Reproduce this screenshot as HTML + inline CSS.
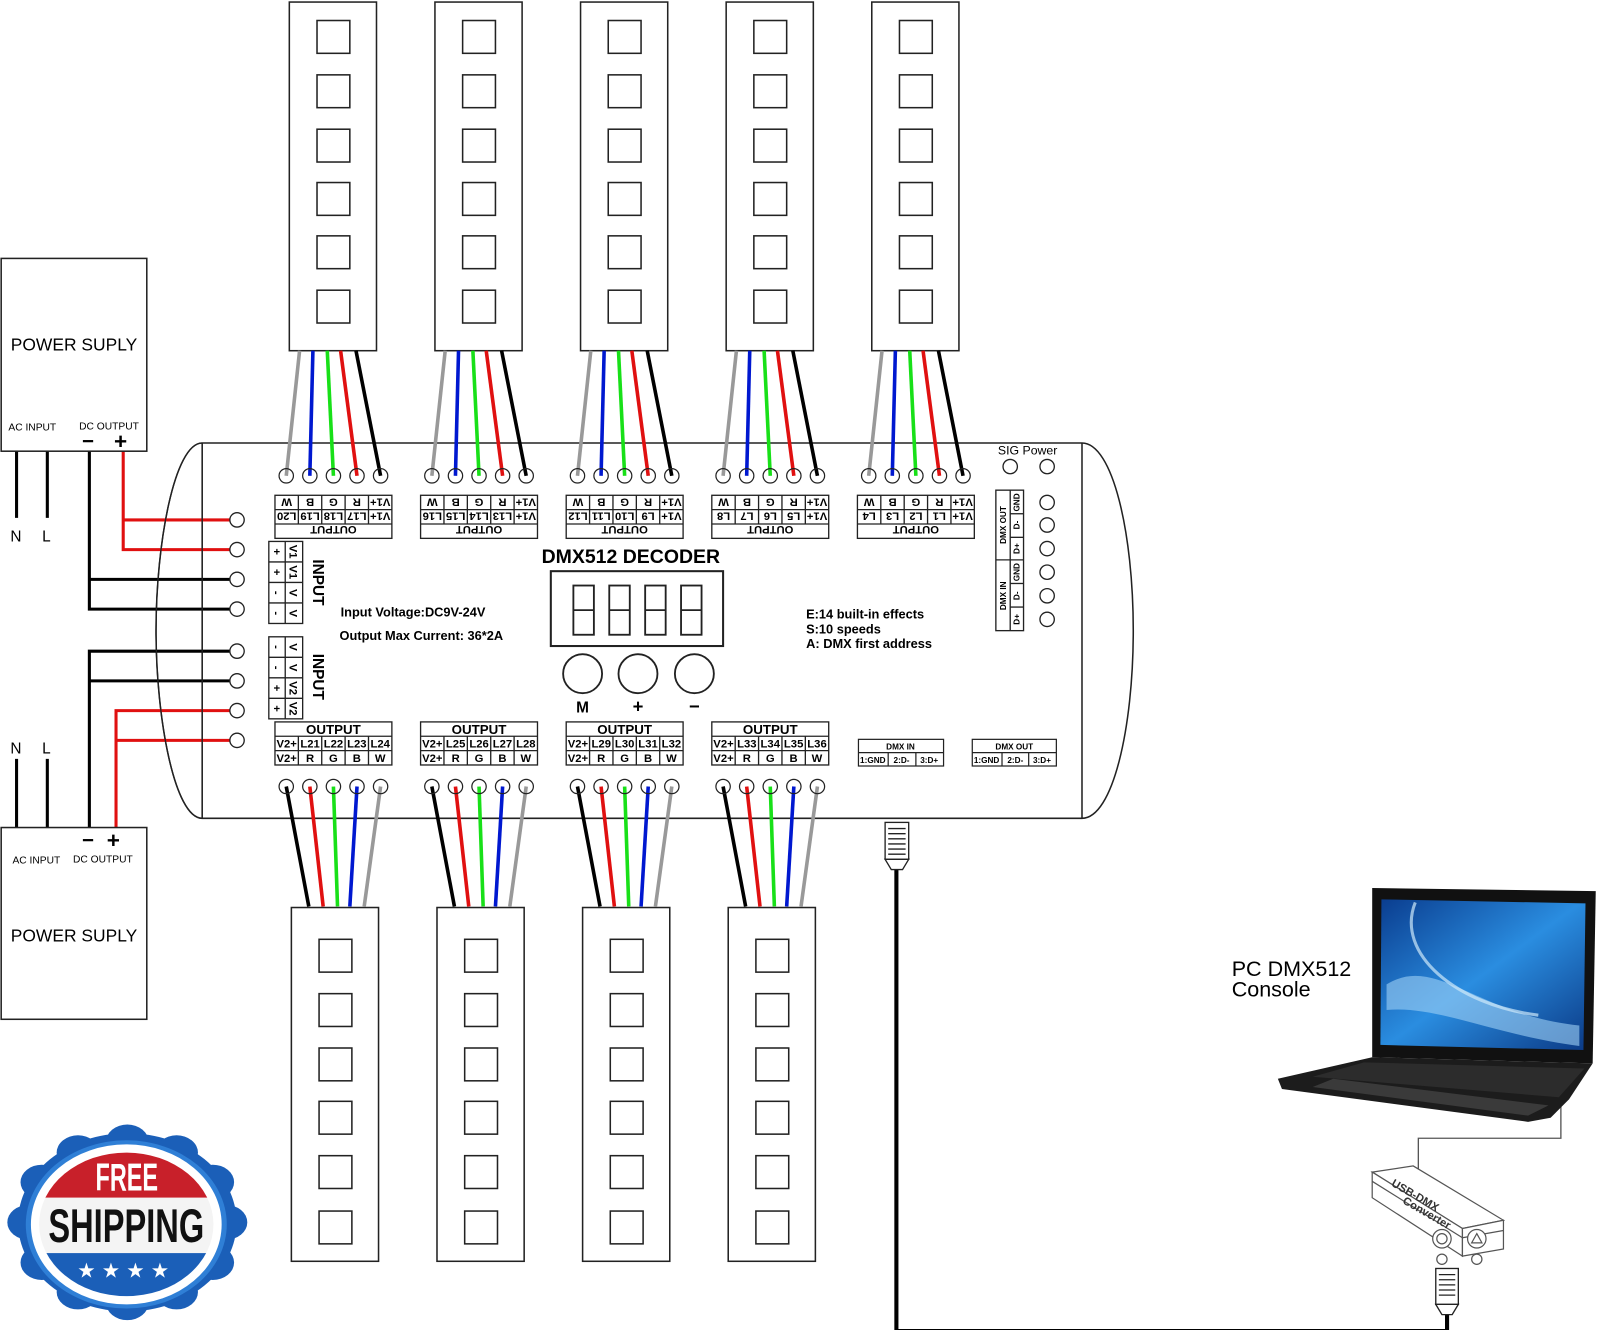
<!DOCTYPE html>
<html><head><meta charset="utf-8"><style>
html,body{margin:0;padding:0;background:#fff;}
svg{display:block;}
text{font-family:"Liberation Sans",sans-serif;}
.b{font-weight:bold;}
</style></head><body>
<svg width="1600" height="1330" viewBox="0 0 1560 1297" xmlns="http://www.w3.org/2000/svg">
<defs>
<linearGradient id="scr" x1="0" y1="0" x2="1" y2="1"><stop offset="0" stop-color="#0a3d8f"/><stop offset="0.5" stop-color="#2a8de0"/><stop offset="1" stop-color="#0b3a86"/></linearGradient>
<clipPath id="inner"><ellipse cx="123" cy="1194" rx="85" ry="70"/></clipPath>
<g id="strip"><rect x="0" y="2" width="85" height="340" fill="#fff" stroke="#222" stroke-width="1.5"/>
<rect x="27" y="20" width="32" height="32" fill="none" stroke="#222" stroke-width="1.5"/>
<rect x="27" y="73" width="32" height="32" fill="none" stroke="#222" stroke-width="1.5"/>
<rect x="27" y="126" width="32" height="32" fill="none" stroke="#222" stroke-width="1.5"/>
<rect x="27" y="178" width="32" height="32" fill="none" stroke="#222" stroke-width="1.5"/>
<rect x="27" y="230" width="32" height="32" fill="none" stroke="#222" stroke-width="1.5"/>
<rect x="27" y="283" width="32" height="32" fill="none" stroke="#222" stroke-width="1.5"/></g>
<g id="bstrip"><rect x="0" y="0" width="85" height="345" fill="#fff" stroke="#222" stroke-width="1.5"/>
<rect x="27" y="31" width="32" height="32" fill="none" stroke="#222" stroke-width="1.5"/>
<rect x="27" y="84" width="32" height="32" fill="none" stroke="#222" stroke-width="1.5"/>
<rect x="27" y="137" width="32" height="32" fill="none" stroke="#222" stroke-width="1.5"/>
<rect x="27" y="189" width="32" height="32" fill="none" stroke="#222" stroke-width="1.5"/>
<rect x="27" y="242" width="32" height="32" fill="none" stroke="#222" stroke-width="1.5"/>
<rect x="27" y="296" width="32" height="32" fill="none" stroke="#222" stroke-width="1.5"/></g>
<g id="twires" stroke-width="3.5" fill="none">
<line x1="13" y1="342" x2="0" y2="464" stroke="#999"/>
<line x1="26" y1="342" x2="23" y2="464" stroke="#0018d0"/>
<line x1="40" y1="342" x2="46" y2="464" stroke="#18e018"/>
<line x1="53" y1="342" x2="69" y2="464" stroke="#e01010"/>
<line x1="68" y1="342" x2="92" y2="464" stroke="#000"/>
<circle cx="0" cy="464" r="7" stroke="#222" stroke-width="1.2" fill="none"/>
<circle cx="23" cy="464" r="7" stroke="#222" stroke-width="1.2" fill="none"/>
<circle cx="46" cy="464" r="7" stroke="#222" stroke-width="1.2" fill="none"/>
<circle cx="69" cy="464" r="7" stroke="#222" stroke-width="1.2" fill="none"/>
<circle cx="92" cy="464" r="7" stroke="#222" stroke-width="1.2" fill="none"/></g>
<g id="bwires" stroke-width="3.5" fill="none">
<line x1="0" y1="767" x2="22" y2="884" stroke="#000"/>
<line x1="23" y1="767" x2="36" y2="884" stroke="#e01010"/>
<line x1="46" y1="767" x2="50" y2="884" stroke="#18e018"/>
<line x1="69" y1="767" x2="62" y2="884" stroke="#0018d0"/>
<line x1="92" y1="767" x2="76" y2="884" stroke="#999"/>
<circle cx="0" cy="767" r="7" stroke="#222" stroke-width="1.2" fill="none"/>
<circle cx="23" cy="767" r="7" stroke="#222" stroke-width="1.2" fill="none"/>
<circle cx="46" cy="767" r="7" stroke="#222" stroke-width="1.2" fill="none"/>
<circle cx="69" cy="767" r="7" stroke="#222" stroke-width="1.2" fill="none"/>
<circle cx="92" cy="767" r="7" stroke="#222" stroke-width="1.2" fill="none"/></g>
<g id="tgrid" fill="none" stroke="#222" stroke-width="1.3"><rect x="0" y="0" width="114" height="42"/><line x1="0" y1="14" x2="114" y2="14"/><line x1="0" y1="28" x2="114" y2="28"/>
<line x1="22.8" y1="0" x2="22.8" y2="28"/><line x1="45.6" y1="0" x2="45.6" y2="28"/><line x1="68.4" y1="0" x2="68.4" y2="28"/><line x1="91.2" y1="0" x2="91.2" y2="28"/></g>
<g id="bgrid" fill="none" stroke="#222" stroke-width="1.3"><rect x="0" y="0" width="114" height="42"/><line x1="0" y1="14" x2="114" y2="14"/><line x1="0" y1="28" x2="114" y2="28"/>
<line x1="22.8" y1="14" x2="22.8" y2="42"/><line x1="45.6" y1="14" x2="45.6" y2="42"/><line x1="68.4" y1="14" x2="68.4" y2="42"/><line x1="91.2" y1="14" x2="91.2" y2="42"/></g>
</defs>

<use href="#strip" x="282"/><use href="#strip" x="424"/><use href="#strip" x="566"/><use href="#strip" x="708"/><use href="#strip" x="850"/>
<use href="#bstrip" x="284" y="885"/><use href="#bstrip" x="426" y="885"/><use href="#bstrip" x="568" y="885"/><use href="#bstrip" x="710" y="885"/>

<path d="M197,432 L1055,432 C1085,432 1105,520 1105,615 C1105,710 1085,798 1055,798 L197,798 C170,798 152,700 152,615 C152,530 170,432 197,432 Z" fill="#fff" stroke="#222" stroke-width="1.5"/>
<line x1="197" y1="432" x2="197" y2="798" stroke="#222" stroke-width="1.5"/>
<line x1="1055" y1="432" x2="1055" y2="798" stroke="#222" stroke-width="1.5"/>

<use href="#twires" x="279"/><use href="#twires" x="421"/><use href="#twires" x="563"/><use href="#twires" x="705"/><use href="#twires" x="847"/>
<use href="#bwires" x="279"/><use href="#bwires" x="421"/><use href="#bwires" x="563"/><use href="#bwires" x="705"/>

<g font-size="11" font-weight="bold" text-anchor="middle">
<g transform="translate(268,483)"><use href="#tgrid"/>
<g transform="rotate(180 57 21)"><text x="57" y="12">OUTPUT</text>
<text x="11.4" y="25">V1+</text><text x="34.2" y="25">L17</text><text x="57" y="25">L18</text><text x="79.8" y="25">L19</text><text x="102.6" y="25">L20</text>
<text x="11.4" y="39">V1+</text><text x="34.2" y="39">R</text><text x="57" y="39">G</text><text x="79.8" y="39">B</text><text x="102.6" y="39">W</text></g></g>
<g transform="translate(410,483)"><use href="#tgrid"/>
<g transform="rotate(180 57 21)"><text x="57" y="12">OUTPUT</text>
<text x="11.4" y="25">V1+</text><text x="34.2" y="25">L13</text><text x="57" y="25">L14</text><text x="79.8" y="25">L15</text><text x="102.6" y="25">L16</text>
<text x="11.4" y="39">V1+</text><text x="34.2" y="39">R</text><text x="57" y="39">G</text><text x="79.8" y="39">B</text><text x="102.6" y="39">W</text></g></g>
<g transform="translate(552,483)"><use href="#tgrid"/>
<g transform="rotate(180 57 21)"><text x="57" y="12">OUTPUT</text>
<text x="11.4" y="25">V1+</text><text x="34.2" y="25">L9</text><text x="57" y="25">L10</text><text x="79.8" y="25">L11</text><text x="102.6" y="25">L12</text>
<text x="11.4" y="39">V1+</text><text x="34.2" y="39">R</text><text x="57" y="39">G</text><text x="79.8" y="39">B</text><text x="102.6" y="39">W</text></g></g>
<g transform="translate(694,483)"><use href="#tgrid"/>
<g transform="rotate(180 57 21)"><text x="57" y="12">OUTPUT</text>
<text x="11.4" y="25">V1+</text><text x="34.2" y="25">L5</text><text x="57" y="25">L6</text><text x="79.8" y="25">L7</text><text x="102.6" y="25">L8</text>
<text x="11.4" y="39">V1+</text><text x="34.2" y="39">R</text><text x="57" y="39">G</text><text x="79.8" y="39">B</text><text x="102.6" y="39">W</text></g></g>
<g transform="translate(836,483)"><use href="#tgrid"/>
<g transform="rotate(180 57 21)"><text x="57" y="12">OUTPUT</text>
<text x="11.4" y="25">V1+</text><text x="34.2" y="25">L1</text><text x="57" y="25">L2</text><text x="79.8" y="25">L3</text><text x="102.6" y="25">L4</text>
<text x="11.4" y="39">V1+</text><text x="34.2" y="39">R</text><text x="57" y="39">G</text><text x="79.8" y="39">B</text><text x="102.6" y="39">W</text></g></g>

<g transform="translate(268,704)"><use href="#bgrid"/><text x="57" y="12" font-size="13">OUTPUT</text>
<text x="11.4" y="25">V2+</text><text x="34.2" y="25">L21</text><text x="57" y="25">L22</text><text x="79.8" y="25">L23</text><text x="102.6" y="25">L24</text>
<text x="11.4" y="39">V2+</text><text x="34.2" y="39">R</text><text x="57" y="39">G</text><text x="79.8" y="39">B</text><text x="102.6" y="39">W</text></g>
<g transform="translate(410,704)"><use href="#bgrid"/><text x="57" y="12" font-size="13">OUTPUT</text>
<text x="11.4" y="25">V2+</text><text x="34.2" y="25">L25</text><text x="57" y="25">L26</text><text x="79.8" y="25">L27</text><text x="102.6" y="25">L28</text>
<text x="11.4" y="39">V2+</text><text x="34.2" y="39">R</text><text x="57" y="39">G</text><text x="79.8" y="39">B</text><text x="102.6" y="39">W</text></g>
<g transform="translate(552,704)"><use href="#bgrid"/><text x="57" y="12" font-size="13">OUTPUT</text>
<text x="11.4" y="25">V2+</text><text x="34.2" y="25">L29</text><text x="57" y="25">L30</text><text x="79.8" y="25">L31</text><text x="102.6" y="25">L32</text>
<text x="11.4" y="39">V2+</text><text x="34.2" y="39">R</text><text x="57" y="39">G</text><text x="79.8" y="39">B</text><text x="102.6" y="39">W</text></g>
<g transform="translate(694,704)"><use href="#bgrid"/><text x="57" y="12" font-size="13">OUTPUT</text>
<text x="11.4" y="25">V2+</text><text x="34.2" y="25">L33</text><text x="57" y="25">L34</text><text x="79.8" y="25">L35</text><text x="102.6" y="25">L36</text>
<text x="11.4" y="39">V2+</text><text x="34.2" y="39">R</text><text x="57" y="39">G</text><text x="79.8" y="39">B</text><text x="102.6" y="39">W</text></g>
</g>

<g fill="none" stroke-width="3">
<line x1="16" y1="440" x2="16" y2="505" stroke="#000"/><line x1="46" y1="440" x2="46" y2="505" stroke="#000"/>
<polyline points="87,440 87,594 224,594" stroke="#000"/><line x1="87" y1="565" x2="224" y2="565" stroke="#000"/>
<polyline points="120,440 120,536 224,536" stroke="#e01010"/><line x1="120" y1="507" x2="224" y2="507" stroke="#e01010"/>
<line x1="16" y1="740" x2="16" y2="807" stroke="#000"/><line x1="46" y1="740" x2="46" y2="807" stroke="#000"/>
<polyline points="87,807 87,635 224,635" stroke="#000"/><line x1="87" y1="664" x2="224" y2="664" stroke="#000"/>
<polyline points="113,807 113,693 224,693" stroke="#e01010"/><line x1="113" y1="722" x2="224" y2="722" stroke="#e01010"/>
</g>
<g fill="#fff" stroke="#222" stroke-width="1.3">
<circle cx="231" cy="507" r="7"/><circle cx="231" cy="536" r="7"/><circle cx="231" cy="565" r="7"/><circle cx="231" cy="594" r="7"/>
<circle cx="231" cy="635" r="7"/><circle cx="231" cy="664" r="7"/><circle cx="231" cy="693" r="7"/><circle cx="231" cy="722" r="7"/>
</g>
<path d="M197,432 C170,432 152,530 152,615 C152,700 170,798 197,798" fill="none" stroke="#222" stroke-width="1.3"/>
<line x1="197" y1="432" x2="197" y2="798" stroke="#222" stroke-width="1.3"/>

<rect x="1" y="252" width="142" height="188" fill="#fff" stroke="#222" stroke-width="1.5"/>
<text x="72" y="342" font-size="17" text-anchor="middle">POWER SUPLY</text>
<text x="8" y="420" font-size="10">AC INPUT</text><text x="77" y="419" font-size="10">DC OUTPUT</text>
<text x="80" y="437" font-size="20" class="b">−</text><text x="111" y="438" font-size="22" class="b">+</text>
<text x="10" y="528" font-size="15">N</text><text x="41" y="528" font-size="15">L</text>
<text x="10" y="735" font-size="15">N</text><text x="41" y="735" font-size="15">L</text>
<rect x="1" y="807" width="142" height="187" fill="#fff" stroke="#222" stroke-width="1.5"/>
<text x="80" y="826" font-size="20" class="b">−</text><text x="104" y="827" font-size="22" class="b">+</text>
<text x="12" y="842" font-size="10">AC INPUT</text><text x="71" y="841" font-size="10">DC OUTPUT</text>
<text x="72" y="918" font-size="17" text-anchor="middle">POWER SUPLY</text>

<g fill="none" stroke="#222" stroke-width="1.3">
<rect x="262" y="528" width="33" height="80"/><line x1="262" y1="548" x2="295" y2="548"/><line x1="262" y1="568" x2="295" y2="568"/><line x1="262" y1="588" x2="295" y2="588"/><line x1="278" y1="528" x2="278" y2="608"/>
<rect x="262" y="621" width="33" height="80"/><line x1="262" y1="641" x2="295" y2="641"/><line x1="262" y1="661" x2="295" y2="661"/><line x1="262" y1="681" x2="295" y2="681"/><line x1="278" y1="621" x2="278" y2="701"/>
</g>
<g font-size="11" font-weight="bold" text-anchor="middle">
<text transform="translate(270,538) rotate(90)" y="4">+</text><text transform="translate(286,538) rotate(90)" y="4">V1</text>
<text transform="translate(270,558) rotate(90)" y="4">+</text><text transform="translate(286,558) rotate(90)" y="4">V1</text>
<text transform="translate(270,578) rotate(90)" y="4">-</text><text transform="translate(286,578) rotate(90)" y="4">V</text>
<text transform="translate(270,598) rotate(90)" y="4">-</text><text transform="translate(286,598) rotate(90)" y="4">V</text>
<text transform="translate(270,631) rotate(90)" y="4">-</text><text transform="translate(286,631) rotate(90)" y="4">V</text>
<text transform="translate(270,651) rotate(90)" y="4">-</text><text transform="translate(286,651) rotate(90)" y="4">V</text>
<text transform="translate(270,671) rotate(90)" y="4">+</text><text transform="translate(286,671) rotate(90)" y="4">V2</text>
<text transform="translate(270,691) rotate(90)" y="4">+</text><text transform="translate(286,691) rotate(90)" y="4">V2</text>
<text transform="translate(310,568) rotate(90)" y="5" font-size="15">INPUT</text>
<text transform="translate(310,660) rotate(90)" y="5" font-size="15">INPUT</text>
</g>

<text x="332" y="601" font-size="12.5" class="b">Input Voltage:DC9V-24V</text>
<text x="331" y="624" font-size="12.5" class="b">Output Max  Current: 36*2A</text>
<text x="528" y="549" font-size="19" class="b">DMX512 DECODER</text>
<rect x="537" y="557" width="168" height="73" fill="none" stroke="#222" stroke-width="2"/>
<g fill="none" stroke="#222" stroke-width="1.8">
<rect x="559" y="571" width="20" height="48"/><line x1="559" y1="595" x2="579" y2="595"/>
<rect x="594" y="571" width="20" height="48"/><line x1="594" y1="595" x2="614" y2="595"/>
<rect x="629" y="571" width="20" height="48"/><line x1="629" y1="595" x2="649" y2="595"/>
<rect x="664" y="571" width="20" height="48"/><line x1="664" y1="595" x2="684" y2="595"/>
<circle cx="568" cy="657" r="19"/><circle cx="622" cy="657" r="19"/><circle cx="677" cy="657" r="19"/>
</g>
<text x="568" y="695" font-size="15" class="b" text-anchor="middle">M</text>
<text x="622" y="695" font-size="18" class="b" text-anchor="middle">+</text>
<text x="677" y="695" font-size="18" class="b" text-anchor="middle">−</text>
<text x="786" y="603" font-size="12.5" class="b">E:14 built-in effects</text>
<text x="786" y="618" font-size="12.5" class="b">S:10 speeds</text>
<text x="786" y="632" font-size="12.5" class="b">A: DMX first address</text>

<text x="973" y="443" font-size="12">SIG Power</text>
<g fill="none" stroke="#222" stroke-width="1.3">
<circle cx="985" cy="455" r="7"/><circle cx="1021" cy="455" r="7"/>
<circle cx="1021" cy="490" r="7"/><circle cx="1021" cy="512" r="7"/><circle cx="1021" cy="535" r="7"/><circle cx="1021" cy="558" r="7"/><circle cx="1021" cy="581" r="7"/><circle cx="1021" cy="604" r="7"/>
<rect x="971" y="478" width="27" height="137"/><line x1="985" y1="478" x2="985" y2="615"/><line x1="971" y1="546" x2="998" y2="546"/>
<line x1="985" y1="501" x2="998" y2="501"/><line x1="985" y1="524" x2="998" y2="524"/><line x1="985" y1="569" x2="998" y2="569"/><line x1="985" y1="592" x2="998" y2="592"/>
</g>
<g font-size="8" font-weight="bold" text-anchor="middle">
<text transform="translate(978,512) rotate(-90)" y="3">DMX OUT</text>
<text transform="translate(978,581) rotate(-90)" y="3">DMX IN</text>
<text transform="translate(991,490) rotate(-90)" y="3">GND</text><text transform="translate(991,512) rotate(-90)" y="3">D-</text><text transform="translate(991,535) rotate(-90)" y="3">D+</text>
<text transform="translate(991,558) rotate(-90)" y="3">GND</text><text transform="translate(991,581) rotate(-90)" y="3">D-</text><text transform="translate(991,604) rotate(-90)" y="3">D+</text>
</g>
<g fill="none" stroke="#222" stroke-width="1.2">
<rect x="837" y="721" width="83" height="26"/><line x1="837" y1="734" x2="920" y2="734"/><line x1="866" y1="734" x2="866" y2="747"/><line x1="893" y1="734" x2="893" y2="747"/>
<rect x="948" y="721" width="82" height="26"/><line x1="948" y1="734" x2="1030" y2="734"/><line x1="977" y1="734" x2="977" y2="747"/><line x1="1003" y1="734" x2="1003" y2="747"/>
</g>
<g font-size="8" font-weight="bold" text-anchor="middle">
<text x="878" y="731">DMX IN</text><text x="851" y="744">1:GND</text><text x="879" y="744">2:D-</text><text x="906" y="744">3:D+</text>
<text x="989" y="731">DMX OUT</text><text x="962" y="744">1:GND</text><text x="990" y="744">2:D-</text><text x="1016" y="744">3:D+</text>
</g>

<polyline points="874,848 874,1298 1411,1298 1411,1282" fill="none" stroke="#000" stroke-width="4"/>
<g fill="#fff" stroke="#222" stroke-width="1.3">
<rect x="863" y="802" width="23" height="36"/>
<polygon points="863,838 886,838 880,848 869,848"/>
<line x1="866" y1="808" x2="883" y2="808"/><line x1="866" y1="813" x2="883" y2="813"/><line x1="866" y1="818" x2="883" y2="818"/><line x1="866" y1="823" x2="883" y2="823"/><line x1="866" y1="828" x2="883" y2="828"/><line x1="866" y1="833" x2="883" y2="833"/>
<rect x="1400" y="1237" width="22" height="35"/>
<polygon points="1400,1272 1422,1272 1416,1282 1406,1282"/>
<line x1="1403" y1="1243" x2="1419" y2="1243"/><line x1="1403" y1="1248" x2="1419" y2="1248"/><line x1="1403" y1="1253" x2="1419" y2="1253"/><line x1="1403" y1="1258" x2="1419" y2="1258"/><line x1="1403" y1="1263" x2="1419" y2="1263"/>
</g>

<polyline points="1522,1060 1522,1110 1383,1110 1383,1140" fill="none" stroke="#555" stroke-width="1.3"/>
<polygon points="1338,866 1556,869 1553,1037 1338,1031" fill="#111"/>
<polygon points="1347,877 1546,881 1544,1024 1346,1019" fill="url(#scr)"/>
<path d="M1352,960 C1400,930 1440,990 1540,1000 L1540,1020 C1460,1010 1400,980 1352,985 Z" fill="#9ed0f5" opacity="0.6"/>
<path d="M1380,880 C1360,930 1420,980 1500,990" fill="none" stroke="#cde8fa" stroke-width="3" opacity="0.7"/>
<polygon points="1338,1031 1553,1037 1530,1072 1512,1090 1490,1094 1250,1062 1246,1052" fill="#1c1c1c"/>
<polygon points="1330,1036 1545,1042 1520,1070 1280,1050" fill="#2c2c2c"/>
<polygon points="1280,1060 1490,1088 1510,1078 1300,1052" fill="#3a3a3a"/>
<text x="1201" y="952" font-size="21">PC  DMX512</text>
<text x="1201" y="972" font-size="21">Console</text>

<g fill="#fff" stroke="#555" stroke-width="1.2">
<polygon points="1338,1143 1378,1137 1466,1190 1426,1198"/>
<polygon points="1338,1143 1426,1198 1426,1225 1338,1168"/>
<polygon points="1426,1198 1466,1190 1466,1218 1426,1225"/>
<line x1="1338" y1="1152" x2="1426" y2="1207"/><line x1="1426" y1="1207" x2="1466" y2="1200"/>
<circle cx="1406" cy="1208" r="9"/><circle cx="1406" cy="1208" r="5"/>
<circle cx="1440" cy="1208" r="9"/><polygon points="1440,1203 1445,1212 1435,1212"/>
<circle cx="1406" cy="1228" r="5"/><circle cx="1440" cy="1228" r="5"/>
</g>
<text transform="translate(1356,1156) rotate(30)" font-size="11" class="b" fill="#333">USB-DMX</text>
<text transform="translate(1367,1173) rotate(30)" font-size="11" class="b" fill="#333">Converter</text>

<g transform="translate(124,1192) scale(1.3,1.06)" fill="#1b5fb8">
<circle r="82"/>
<circle cx="74" cy="0" r="16"/><circle cx="64.1" cy="37" r="16"/><circle cx="37" cy="64.1" r="16"/><circle cx="0" cy="74" r="16"/>
<circle cx="-37" cy="64.1" r="16"/><circle cx="-64.1" cy="37" r="16"/><circle cx="-74" cy="0" r="16"/><circle cx="-64.1" cy="-37" r="16"/>
<circle cx="-37" cy="-64.1" r="16"/><circle cx="0" cy="-74" r="16"/><circle cx="37" cy="-64.1" r="16"/><circle cx="64.1" cy="-37" r="16"/>
</g>
<ellipse cx="123" cy="1194" rx="98" ry="82" fill="#2f7fd6"/>
<ellipse cx="123" cy="1194" rx="93" ry="78" fill="#fff"/>
<g clip-path="url(#inner)">
<rect x="30" y="1120" width="190" height="48" fill="#c8202a"/>
<rect x="30" y="1168" width="190" height="54" fill="#f4f4f4"/>
<rect x="30" y="1222" width="190" height="50" fill="#1b5fb8"/>
</g>
<text x="93" y="1161" font-size="38" font-weight="bold" fill="#fff" textLength="61" lengthAdjust="spacingAndGlyphs">FREE</text>
<text x="47" y="1211" font-size="46" font-weight="bold" fill="#111" textLength="152" lengthAdjust="spacingAndGlyphs">SHIPPING</text>
<text x="123" y="1246" font-size="20" fill="#fff" text-anchor="middle" letter-spacing="6">★★★★</text>
</svg>
</body></html>
